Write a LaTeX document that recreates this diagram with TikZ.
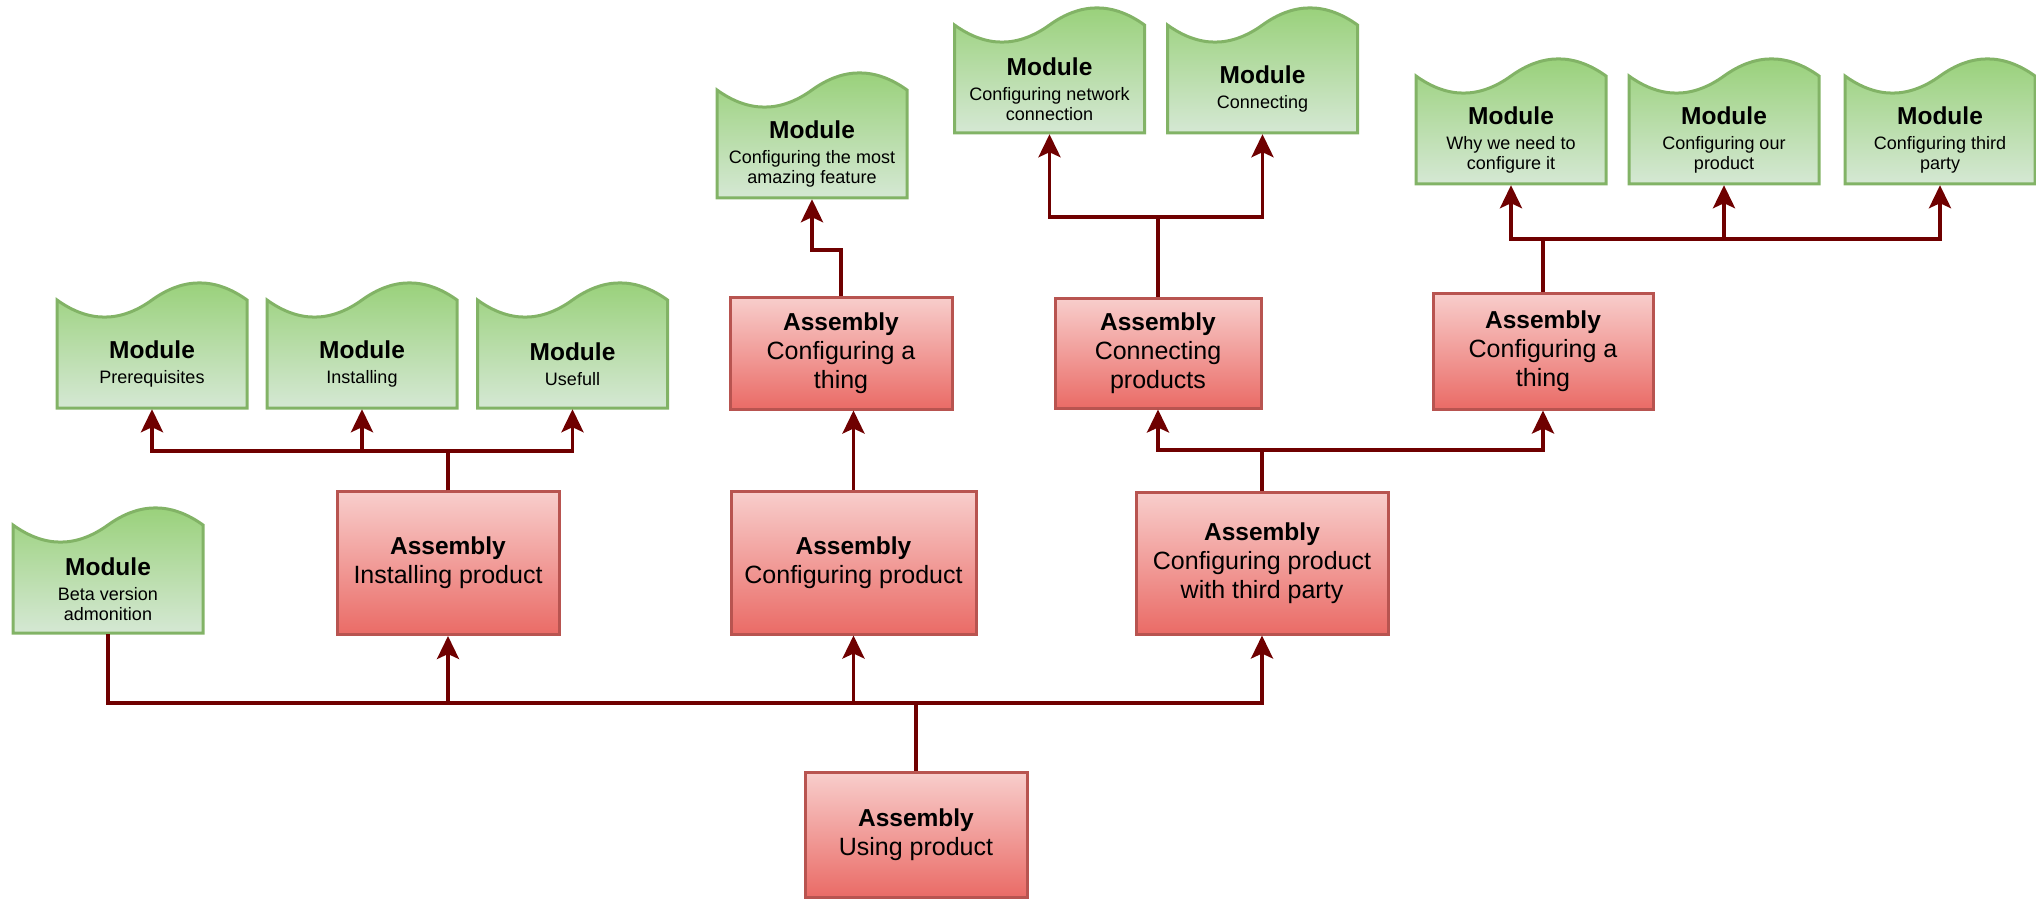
\documentclass[tikz,border=0pt]{standalone}
\usepackage{fontspec}
\setmainfont{Liberation Sans}
\usetikzlibrary{arrows.meta,calc}
\definecolor{conncol}{HTML}{6F0000}
\definecolor{modtop}{HTML}{97D077}
\definecolor{modbot}{HTML}{D5E8D4}
\definecolor{modstroke}{HTML}{82B366}
\definecolor{asmtop}{HTML}{F8CECC}
\definecolor{asmbot}{HTML}{EA6B66}
\definecolor{asmstroke}{HTML}{B85450}
\newcommand{\modulenode}[4]{%
  \path[modshape, shift={(#2,#3)}] (-95,0) -- (-95,-108)
    .. controls (-63.33,-85.2) and (-31.67,-85.2) .. (0,-108)
    .. controls (31.67,-130.8) and (63.33,-130.8) .. (95,-108)
    -- (95,0) -- cycle;
  \node[modbox] (#1) at (#2,#3-63.5) {};
  \node[modtext] (#1-t) at (#2,#3-44) {#4};
}
\tikzset{
  modshape/.style={draw=modstroke, line width=1.5pt, top color=modtop, bottom color=modbot},
  modbox/.style={rectangle, draw=none, minimum width=95pt, minimum height=63.5pt, inner sep=0pt, outer sep=0.6pt},
  modtext/.style={align=center, inner sep=0pt, font=\fontsize{9}{10.25}\selectfont},
  asm/.style={rectangle, draw=asmstroke, line width=1.5pt, top color=asmtop, bottom color=asmbot,
    align=center, inner sep=0pt, font=\fontsize{12.5}{14.4}\selectfont},
  conn/.style={draw=conncol, line width=1.8pt, -{Stealth[length=11.5pt, width=11pt, inset=2.5pt]}},
  plain/.style={draw=conncol, line width=1.8pt},
}
\newcommand{\mtitle}{{\bfseries\fontsize{12.25}{12.5}\selectfont Module}\\[2.25pt]}
\newcommand{\atitle}{{\bfseries\fontsize{12.25}{14.4}\selectfont Assembly}\\}
\begin{document}
\begin{tikzpicture}[x=0.5pt,y=-0.5pt]
\useasboundingbox (0,0) rectangle (2036,899);

% assemblies
\node[asm, minimum width=111pt, minimum height=71.5pt] (A) at (448,563) {\atitle Installing product};
\node[asm, minimum width=122.5pt, minimum height=71.5pt] (B) at (853.5,562.5) {\atitle Configuring product};
\node[asm, minimum width=126pt, minimum height=71pt] (C) at (1262,563) {\atitle Configuring product\\with third party};
\node[asm, minimum width=111pt, minimum height=62.5pt] (D) at (916,834.5) {\atitle Using product};
\node[asm, minimum width=111pt, minimum height=56pt] (E) at (841,353) {\atitle Configuring a\\thing};
\node[asm, minimum width=103pt, minimum height=55pt] (F) at (1158,353) {\atitle Connecting\\products};
\node[asm, minimum width=110pt, minimum height=58pt] (G) at (1543,351) {\atitle Configuring a\\thing};

% modules
\modulenode{beta}{108}{633}{\mtitle Beta version\\admonition}
\modulenode{prereq}{152}{408}{\mtitle Prerequisites}
\modulenode{install}{362}{408}{\mtitle Installing}
\modulenode{usefull}{572.5}{408}{\mtitle Usefull}
\modulenode{amazing}{812}{198}{\mtitle Configuring the most\\amazing feature}
\modulenode{network}{1049.5}{133}{\mtitle Configuring network\\connection}
\modulenode{connecting}{1262.5}{133}{\mtitle Connecting}
\modulenode{why}{1511}{184}{\mtitle Why we need to\\configure it}
\modulenode{our}{1724}{184}{\mtitle Configuring our\\product}
\modulenode{third}{1940}{184}{\mtitle Configuring third\\party}

% bus levels
\coordinate (busD) at (0,703);
\coordinate (busA) at (0,451);
\coordinate (busE) at (0,250);
\coordinate (busF) at (0,217);
\coordinate (busC) at (0,450);
\coordinate (busG) at (0,239);

% connectors
\draw[plain] (D.north) -- (D.north |- busD) -| (beta.south);
\draw[conn] (D.north) -- (D.north |- busD) -| (A.south);
\draw[conn] (D.north) -- (D.north |- busD) -| (B.south);
\draw[conn] (D.north) -- (D.north |- busD) -| (C.south);

\draw[conn] (A.north) -- (A.north |- busA) -| (prereq.south);
\draw[conn] (A.north) -- (A.north |- busA) -| (install.south);
\draw[conn] (A.north) -- (A.north |- busA) -| (usefull.south);

\draw[conn] (B.north) -- (B.north |- E.south);
\draw[conn] (E.north) -- (E.north |- busE) -| (amazing.south);

\draw[conn] (C.north) -- (C.north |- busC) -| (F.south);
\draw[conn] (C.north) -- (C.north |- busC) -| (G.south);

\draw[conn] (F.north) -- (F.north |- busF) -| (network.south);
\draw[conn] (F.north) -- (F.north |- busF) -| (connecting.south);

\draw[conn] (G.north) -- (G.north |- busG) -| (why.south);
\draw[conn] (G.north) -- (G.north |- busG) -| (our.south);
\draw[conn] (G.north) -- (G.north |- busG) -| (third.south);
\end{tikzpicture}
\end{document}
